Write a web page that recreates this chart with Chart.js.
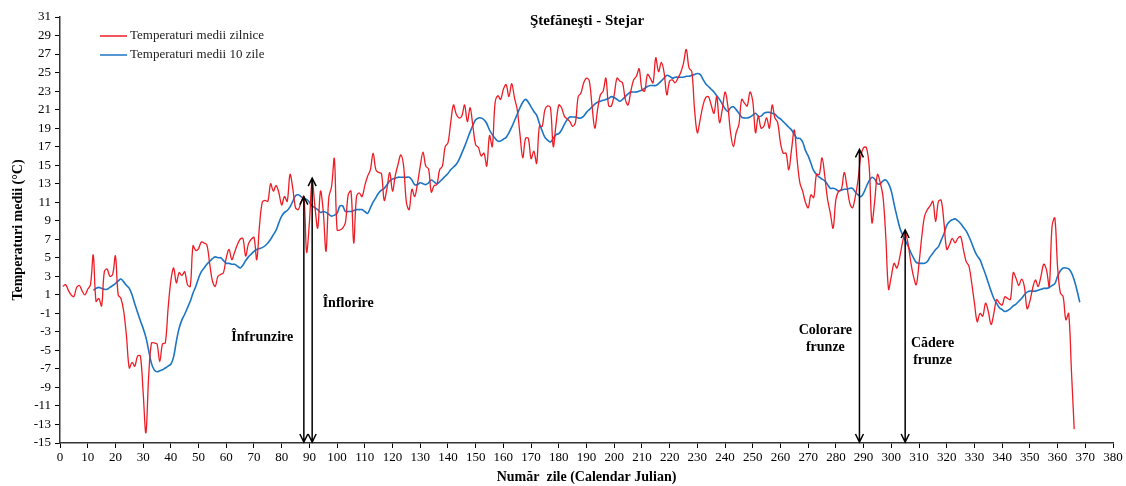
<!doctype html>
<html>
    <head>
        <meta charset="utf-8">
        <script src="https://cdn.jsdelivr.net/npm/chart.js"></script>
        <style>
            body {
                margin: 0px;
                background-color: white;
            }
            #chart {
                display: block;
            }
        </style>
    </head>
    <body>
        <canvas id="chart" width="1126" height="486"></canvas>

        <script>
        // temperaturi medii zilnice, zilele 1..366
        const dailyTemps = [
            1.9, 2.1, 1.5, 1.0, 0.8, 1.8, 2.0, 1.4, 1.0, 1.6,
            2.1, 5.3, 0.3, 0.6, -0.2, 3.5, 3.8, 3.0, 3.2, 5.2,
            1.0, 0.6, -0.8, -3.5, -6.9, -6.3, -6.7, -5.6, -5.6, -9.5,
            -13.9, -7.8, -4.2, -4.2, -4.3, -6.2, -4.3, -4.2, -0.5, 2.5,
            3.9, 2.3, 3.4, 3.1, 3.5, 2.1, 1.9, 6.3, 5.8, 6.0,
            6.7, 6.6, 6.4, 4.4, 2.5, 1.9, 3.0, 3.2, 3.4, 5.0,
            5.9, 4.8, 5.6, 6.4, 7.0, 7.1, 5.2, 6.5, 7.0, 7.2,
            4.8, 8.5, 11.0, 11.2, 11.1, 13.0, 12.2, 12.8, 12.0, 10.7,
            11.6, 11.1, 14.0, 12.5, 10.4, 10.2, 11.0, 11.6, 5.6, 8.8,
            13.4, 10.5, 8.2, 12.2, 10.0, 5.7, 11.5, 12.7, 15.7, 8.0,
            8.0, 8.2, 8.8, 11.8, 12.2, 6.6, 11.6, 12.0, 11.6, 12.8,
            13.8, 14.5, 16.3, 14.5, 14.2, 14.1, 11.2, 12.5, 14.2, 12.2,
            13.9, 15.1, 16.1, 14.9, 11.0, 10.2, 12.4, 11.6, 13.0, 14.9,
            16.4, 14.9, 14.6, 12.1, 12.8, 12.9, 14.5, 14.9, 17.0, 17.4,
            19.6, 21.5, 20.5, 20.1, 20.3, 21.5, 19.7, 21.2, 19.2, 17.2,
            16.9, 16.0, 16.3, 14.9, 18.2, 17.0, 21.7, 22.5, 22.1, 23.2,
            23.7, 22.4, 23.8, 22.3, 21.0, 18.3, 15.8, 17.9, 17.9, 15.7,
            16.5, 15.2, 19.2, 19.2, 21.0, 21.4, 21.2, 17.0, 19.4, 21.5,
            21.2, 20.3, 20.0, 19.7, 19.2, 19.6, 22.4, 22.8, 23.9, 24.4,
            24.1, 21.4, 19.0, 21.0, 22.6, 23.0, 24.4, 21.4, 21.4, 22.6,
            24.4, 24.1, 23.9, 22.1, 21.5, 23.0, 24.2, 24.6, 25.4, 23.2,
            23.0, 24.8, 24.4, 23.9, 26.6, 25.1, 26.1, 25.0, 22.6, 24.1,
            24.2, 23.9, 24.4, 25.0, 26.0, 27.5, 25.5, 25.1, 21.0, 18.5,
            19.9, 21.4, 22.3, 22.4, 21.5, 20.6, 22.4, 19.6, 21.0, 22.9,
            21.4, 18.5, 17.0, 18.5, 19.4, 22.1, 21.7, 21.4, 22.9, 21.9,
            18.5, 20.3, 19.0, 19.2, 20.1, 19.0, 21.5, 20.1, 19.6, 17.4,
            16.3, 16.3, 14.5, 16.7, 18.8, 15.6, 13.1, 12.2, 11.0, 10.4,
            11.8, 11.5, 14.0, 14.0, 15.8, 13.8, 11.3, 9.8, 8.2, 11.3,
            12.2, 12.4, 14.2, 12.7, 10.9, 10.4, 11.6, 13.4, 16.0, 16.9,
            16.9, 14.9, 8.8, 11.1, 14.0, 13.1, 11.6, 7.3, 1.6, 3.0,
            4.4, 3.9, 5.0, 6.6, 7.7, 6.6, 4.6, 3.0, 2.1, 4.4,
            7.3, 9.5, 10.2, 10.6, 11.1, 8.9, 11.1, 11.2, 8.8, 5.9,
            6.4, 7.1, 6.6, 7.1, 7.3, 5.9, 4.6, 4.1, 2.3, 0.1,
            -1.9, -1.0, -1.3, 0.1, -0.8, -2.2, -1.0, 0.5, 0.1, -0.1,
            0.8, 0.6, 0.5, 3.4, 2.8, 2.0, 2.7, 1.9, -0.5, 0.3,
            1.7, 2.6, 1.9, 3.0, 4.3, 3.7, 1.9, 8.4, 9.3, 4.0,
            1.2, 0.8, -1.7, -1.0, -7.2, -13.5
        ];
        const dailyStart = 1;

        // temperaturi medii pe 10 zile, zilele 12..368
        const tenDayTemps = [
            1.5, 1.7, 1.8, 1.7, 1.6, 1.6, 1.8, 2.0, 2.2,
            2.5, 2.7, 2.4, 2.0, 1.7, 1.0, 0.0, -0.9, -1.8, -2.6,
            -3.6, -5.0, -6.4, -7.1, -7.3, -7.2, -7.1, -6.9, -6.7, -6.5,
            -5.7, -4.0, -2.6, -1.7, -1.1, -0.4, 0.3, 1.2, 1.9, 2.8,
            3.5, 3.9, 4.3, 4.6, 4.9, 5.1, 5.0, 5.0, 4.7, 4.4,
            4.4, 4.3, 4.3, 4.1, 3.9, 4.2, 4.7, 5.1, 5.4, 5.7,
            5.9, 6.0, 6.1, 6.3, 6.6, 7.0, 7.5, 8.0, 8.8, 9.5,
            9.9, 10.1, 10.5, 11.1, 11.7, 11.8, 11.6, 11.4, 11.3, 11.0,
            10.6, 10.4, 10.2, 9.9, 10.0, 9.9, 9.7, 9.5, 9.6, 9.8,
            10.6, 10.6, 10.0, 10.0, 10.0, 10.1, 10.2, 10.2, 10.2, 10.0,
            9.8, 10.4, 11.0, 11.5, 12.0, 12.3, 12.5, 12.9, 13.3, 13.5,
            13.6, 13.7, 13.7, 13.7, 13.7, 13.7, 13.4, 12.9, 12.9, 13.1,
            13.0, 12.9, 13.1, 13.4, 13.2, 13.0, 13.2, 13.5, 13.8, 14.1,
            14.5, 14.8, 15.1, 15.6, 16.3, 17.0, 17.8, 18.6, 19.3, 19.9,
            20.1, 20.1, 19.9, 19.5, 18.8, 18.3, 17.9, 17.6, 17.6, 17.8,
            18.0, 18.5, 19.1, 19.8, 20.5, 21.2, 21.8, 22.1, 21.8, 21.3,
            20.8, 20.4, 19.5, 18.7, 18.0, 17.7, 17.5, 17.9, 18.3, 18.4,
            18.8, 19.4, 19.9, 20.2, 20.2, 20.2, 20.1, 20.1, 20.3, 20.7,
            21.0, 21.3, 21.6, 21.8, 21.9, 22.0, 22.1, 22.2, 22.4, 22.3,
            22.1, 21.9, 22.1, 22.4, 22.7, 22.9, 22.9, 22.9, 23.0, 23.1,
            23.3, 23.5, 23.6, 23.6, 23.6, 23.8, 24.1, 24.4, 24.7, 24.6,
            24.4, 24.5, 24.5, 24.5, 24.5, 24.6, 24.6, 24.7, 24.8, 24.9,
            24.8, 24.3, 23.8, 23.5, 23.2, 22.9, 22.5, 22.1, 21.6, 21.1,
            20.8, 21.2, 21.3, 21.0, 20.6, 20.2, 20.1, 20.1, 20.2, 20.4,
            20.6, 20.3, 20.3, 20.6, 20.7, 20.7, 20.6, 20.5, 20.2, 20.0,
            19.7, 19.4, 19.1, 18.8, 18.3, 17.9, 17.9, 17.5, 16.6, 16.0,
            15.2, 14.4, 14.0, 13.7, 13.5, 13.3, 12.9, 12.5, 12.5, 12.4,
            12.2, 12.3, 12.4, 12.4, 12.5, 12.5, 12.1, 11.8, 11.6, 12.0,
            12.7, 13.3, 13.7, 13.5, 13.0, 13.0, 13.3, 13.4, 13.0, 12.2,
            10.8, 9.5, 8.3, 7.5, 6.9, 6.3, 5.6, 5.0, 4.5, 4.4,
            4.4, 4.4, 4.6, 5.1, 5.5, 5.9, 6.2, 6.9, 7.6, 8.5,
            8.9, 9.1, 9.2, 9.0, 8.7, 8.3, 7.9, 7.3, 6.6, 5.8,
            5.2, 4.8, 4.0, 3.2, 2.3, 1.4, 0.6, 0.1, -0.4, -0.6,
            -0.8, -0.7, -0.5, -0.2, 0.0, 0.3, 0.6, 1.0, 1.3, 1.4,
            1.4, 1.4, 1.5, 1.6, 1.7, 1.7, 1.8, 2.0, 2.2, 3.0,
            3.6, 3.9, 3.9, 3.8, 3.4, 2.6, 1.5, 0.2
        ];
        const tenDayStart = 12;

        // fenofaze: ziua si varful sagetii
        const phaseNames = [["Înfrunzire"], ["Înflorire"], ["Colorare", "frunze"], ["Cădere", "frunze"]];
        const phaseDays = [88, 91, 288.5, 305];
        const phaseTops = [11.6, 13.6, 16.7, 8.0];

        const seriesNames = ["Temperaturi medii zilnice", "Temperaturi medii 10 zile"];

        const RED = '#ee1c25';
        const BLUE = '#1b75c4';
        const FONT = "'Liberation Serif', 'DejaVu Serif', serif";

        function toPoints(values, start) {
            return values.map((v, i) => ({ x: start + i, y: v }));
        }

        // titlu, legenda, sageti si etichete
        const extras = {
            id: 'extras',
            afterDatasetsDraw(chart) {
                const ctx = chart.ctx;
                const xs = chart.scales.x;
                const ys = chart.scales.y;
                const area = chart.chartArea;
                ctx.save();

                // titlu
                ctx.fillStyle = '#000';
                ctx.font = "bold 15px " + FONT;
                ctx.textAlign = 'center';
                ctx.textBaseline = 'middle';
                ctx.fillText("Ştefăneşti - Stejar", 587, 21);

                // legenda
                ctx.font = "13px " + FONT;
                ctx.textAlign = 'left';
                [RED, BLUE].forEach((c, i) => {
                    const y = 36 + i * 19;
                    ctx.strokeStyle = c;
                    ctx.lineWidth = 1.5;
                    ctx.beginPath();
                    ctx.moveTo(100, y);
                    ctx.lineTo(127, y);
                    ctx.stroke();
                    ctx.fillStyle = '#222';
                    ctx.fillText(seriesNames[i], 130, y);
                });

                // sageti
                ctx.strokeStyle = '#000';
                ctx.lineWidth = 1.5;
                phaseDays.forEach((d, i) => {
                    const px = xs.getPixelForValue(d);
                    const top = ys.getPixelForValue(phaseTops[i]);
                    const bot = area.bottom - 1;
                    ctx.beginPath();
                    ctx.moveTo(px, top);
                    ctx.lineTo(px, bot);
                    ctx.moveTo(px - 4, top + 8);
                    ctx.lineTo(px, top);
                    ctx.lineTo(px + 4, top + 8);
                    ctx.moveTo(px - 4, bot - 8);
                    ctx.lineTo(px, bot);
                    ctx.lineTo(px + 4, bot - 8);
                    ctx.stroke();
                });

                // etichete fenofaze
                const labelX = [73, 104, 276.2, 314.9];
                const labelY = [-3.6, 0.1, -2.8, -4.2];
                ctx.font = "bold 14px " + FONT;
                ctx.fillStyle = '#000';
                ctx.textAlign = 'center';
                phaseNames.forEach((lines, i) => {
                    const px = xs.getPixelForValue(labelX[i]);
                    const py = ys.getPixelForValue(labelY[i]);
                    lines.forEach((t, j) => ctx.fillText(t, px, py + j * 17));
                });

                ctx.restore();
            }
        };

        new Chart(document.getElementById('chart'), {
            type: 'line',
            data: {
                datasets: [
                    {
                        label: seriesNames[0],
                        data: toPoints(dailyTemps, dailyStart),
                        borderColor: RED,
                        borderWidth: 1.3,
                        pointRadius: 0,
                        tension: 0.35,
                        fill: false
                    },
                    {
                        label: seriesNames[1],
                        data: toPoints(tenDayTemps, tenDayStart),
                        borderColor: BLUE,
                        borderWidth: 1.6,
                        pointRadius: 0,
                        tension: 0.35,
                        fill: false
                    }
                ]
            },
            options: {
                responsive: false,
                animation: false,
                layout: { padding: { top: 17, right: 13, left: 10, bottom: 0 } },
                plugins: {
                    legend: { display: false },
                    tooltip: { enabled: false }
                },
                scales: {
                    x: {
                        type: 'linear',
                        min: 0,
                        max: 380,
                        afterFit: s => { s.height = 43; },
                        ticks: {
                            stepSize: 10,
                            color: '#000',
                            maxRotation: 0,
                            autoSkip: false,
                            padding: 2,
                            font: { family: FONT, size: 13 }
                        },
                        grid: { drawOnChartArea: false, color: '#000', tickLength: 5 },
                        border: { color: '#333', width: 1.5 },
                        title: {
                            display: true,
                            text: 'Număr  zile (Calendar Julian)',
                            color: '#000',
                            font: { family: FONT, size: 14, weight: 'bold' },
                            padding: { top: 1, bottom: 0 }
                        }
                    },
                    y: {
                        min: -15,
                        max: 31,
                        afterFit: s => { s.width = 50; },
                        ticks: {
                            stepSize: 2,
                            color: '#000',
                            padding: 4,
                            autoSkip: false,
                            font: { family: FONT, size: 13 }
                        },
                        grid: { drawOnChartArea: false, color: '#000', tickLength: 5 },
                        border: { color: '#333', width: 1.5 },
                        title: {
                            display: true,
                            text: 'Temperaturi medii (°C)',
                            color: '#000',
                            font: { family: FONT, size: 14, weight: 'bold' },
                            padding: { top: 0, bottom: 2 }
                        }
                    }
                }
            },
            plugins: [extras]
        });
        </script>
    </body>
</html>
